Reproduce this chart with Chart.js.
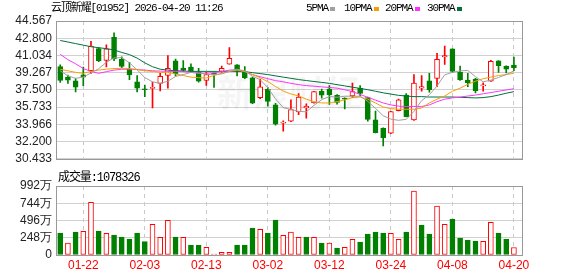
<!DOCTYPE html>
<html>
<head>
<meta charset="utf-8">
<script src="https://cdn.jsdelivr.net/npm/chart.js@4.4.1/dist/chart.umd.min.js"></script>
<style>
  html, body { margin: 0; padding: 0; background: #fff; }
  #wrap { position: relative; width: 578px; height: 276px; overflow: hidden; }
  canvas { position: absolute; left: 0; }
  #kline { top: 0; }
  #vol { top: 170px; }
  .txt {
    position: absolute;
    font: 11px "Liberation Mono", "Noto Sans CJK SC", monospace;
    letter-spacing: -1.1px;
    line-height: 12px;
    color: #000;
    white-space: nowrap;
  }
  .sw { position: absolute; width: 5px; height: 4px; }
</style>
</head>
<body>
<div id="wrap">
  <canvas id="kline" width="578" height="170"></canvas>
  <canvas id="vol" width="578" height="106"></canvas>
  <div class="txt" style="left:51px;top:2px">云顶新耀[01952] 2026-04-20 11:26</div>
  <div class="txt" id="volTitle" style="left:58px;top:171px;font-size:12px;line-height:14px">成交量:1078326</div>
</div>
<script>
const dates = [
  "01-19", "01-20", "01-21", "01-22", "01-23", "01-26", "01-27", "01-28", "01-29", "01-30",
  "02-02", "02-03", "02-04", "02-05", "02-06", "02-09", "02-10", "02-11", "02-12", "02-13",
  "02-16", "02-20", "02-23", "02-24", "02-25", "02-26", "02-27", "03-02", "03-03", "03-04",
  "03-05", "03-06", "03-09", "03-10", "03-11", "03-12", "03-13", "03-16", "03-17", "03-18",
  "03-19", "03-20", "03-23", "03-24", "03-25", "03-26", "03-27", "03-30", "03-31", "04-01",
  "04-02", "04-08", "04-09", "04-10", "04-13", "04-14", "04-15", "04-16", "04-17", "04-20",
];
const tickDates = ["01-22", "02-03", "02-13", "03-02", "03-12", "03-24", "04-08", "04-20"];

const opens = [
  39.88, 38.81, 38.43, 39.04, 39.46, 41.73, 40.53, 42.90, 40.63, 39.62,
  38.33, 37.58, 37.65, 38.17, 38.98, 40.47, 39.75, 39.85, 39.30, 38.46,
  39.15, 39.40, 40.14, 40.08, 39.37, 38.75, 36.71, 37.55, 35.96, 34.08,
  34.28, 35.25, 35.64, 36.16, 37.36, 37.58, 36.94, 36.61, 36.87, 37.65,
  36.71, 34.44, 33.57, 33.05, 35.38, 36.97, 34.41, 37.68, 38.43, 38.69,
  40.89, 41.70, 39.30, 38.52, 38.62, 37.91, 38.39, 40.47, 39.95, 40.05,
];
const highs = [
  40.08, 39.01, 38.65, 39.85, 42.48, 41.83, 42.12, 43.35, 40.89, 40.34,
  38.98, 38.00, 38.30, 39.20, 41.02, 40.66, 40.50, 40.18, 39.72, 39.30,
  39.20, 39.95, 41.83, 40.10, 39.88, 38.82, 38.62, 37.75, 36.13, 34.34,
  36.48, 37.13, 36.06, 37.35, 37.58, 37.94, 37.03, 36.68, 38.20, 37.94,
  36.77, 35.32, 33.60, 35.30, 36.55, 37.13, 39.07, 38.98, 39.20, 41.24,
  41.99, 41.72, 39.95, 39.20, 38.69, 38.23, 40.53, 40.50, 39.97, 40.86,
];
const lows = [
  38.26, 38.17, 37.29, 37.94, 39.20, 40.40, 39.85, 40.50, 39.79, 38.56,
  37.29, 36.81, 35.64, 37.39, 37.68, 38.94, 39.40, 39.30, 38.30, 37.97,
  37.75, 39.30, 40.14, 38.94, 38.65, 36.10, 36.61, 35.83, 33.89, 33.27,
  34.25, 34.96, 34.60, 36.13, 36.64, 36.00, 36.03, 35.54, 36.71, 36.87,
  34.28, 33.10, 31.75, 33.00, 35.35, 34.73, 34.38, 37.36, 37.26, 37.84,
  40.11, 39.30, 38.46, 37.84, 37.19, 37.36, 38.37, 39.30, 39.24, 39.46,
];
const closes = [
  38.46, 38.49, 37.78, 38.81, 41.99, 40.50, 41.70, 40.69, 39.92, 39.04,
  37.68, 37.52, 37.75, 38.88, 39.72, 39.14, 39.50, 39.40, 38.39, 39.07,
  39.10, 39.72, 40.73, 39.46, 38.75, 36.13, 37.81, 36.32, 33.99, 34.21,
  35.48, 36.77, 35.83, 37.32, 36.97, 37.02, 36.22, 36.55, 37.32, 37.13,
  34.47, 33.11, 32.59, 35.28, 36.48, 34.76, 38.20, 37.84, 37.52, 40.63,
  41.02, 39.40, 38.56, 38.23, 37.42, 37.94, 40.43, 39.98, 39.62, 39.79,
];
// 成交量, 单位: 万
const volumes = [
  316, 172, 331, 340, 757, 345, 311, 287, 259, 230,
  316, 192, 441, 254, 498, 259, 254, 144, 144, 110,
  14, 38, 38, 144, 144, 388, 369, 316, 503, 283,
  331, 254, 259, 254, 172, 172, 101, 110, 225, 187,
  302, 331, 316, 311, 225, 331, 920, 431, 302, 704,
  441, 517, 244, 216, 201, 196, 469, 316, 230, 107.8,
];

const ma5 = [
  39.46, 38.94, 38.69, 38.81, 39.24, 39.68, 40.33, 40.78, 40.82, 40.28,
  39.55, 38.76, 38.33, 38.17, 38.39, 38.88, 39.07, 39.30, 39.24, 39.11,
  39.07, 39.14, 39.40, 39.62, 39.45, 38.90, 38.55, 37.72, 36.58, 35.68,
  35.50, 35.30, 35.25, 35.92, 36.50, 36.82, 36.75, 36.85, 36.85, 36.85,
  36.32, 35.60, 34.85, 34.50, 34.38, 34.48, 35.30, 36.40, 37.00, 37.90,
  39.05, 39.30, 39.45, 39.50, 38.85, 38.33, 38.50, 38.78, 39.07, 39.45,
];
const ma10 = [
  39.62, 39.46, 39.30, 39.20, 39.40, 39.53, 39.62, 39.69, 39.72, 39.69,
  39.59, 39.46, 39.40, 39.30, 39.30, 39.14, 38.98, 38.81, 38.75, 38.72,
  38.98, 39.20, 39.40, 39.53, 39.37, 39.07, 38.75, 38.35, 37.85, 37.38,
  37.08, 36.88, 36.55, 36.29, 36.16, 36.16, 36.29, 36.48, 36.71, 36.77,
  36.55, 36.16, 35.74, 35.58, 35.51, 35.51, 35.51, 35.64, 36.16, 36.55,
  36.87, 37.36, 37.68, 38.07, 38.39, 38.65, 38.81, 38.98, 39.07, 39.20,
];
const ma20 = [
  41.15, 40.60, 40.18, 39.69, 39.40, 39.20, 39.37, 39.53, 39.62, 39.62,
  39.59, 39.53, 39.46, 39.43, 39.40, 39.40, 39.37, 39.30, 39.20, 39.20,
  39.27, 39.37, 39.53, 39.56, 39.40, 39.07, 38.85, 38.65, 38.45, 38.33,
  38.17, 38.04, 37.94, 37.88, 37.81, 37.75, 37.68, 37.52, 37.32, 37.03,
  36.74, 36.45, 36.16, 35.96, 35.83, 35.80, 35.80, 35.80, 35.96, 36.29,
  36.55, 36.68, 36.77, 36.87, 36.97, 37.10, 37.23, 37.36, 37.49, 37.62,
];
const ma30 = [
  42.57, 42.41, 42.25, 42.09, 41.93, 41.83, 41.73, 41.60, 41.34, 41.12,
  40.76, 40.27, 39.88, 39.62, 39.53, 39.46, 39.43, 39.40, 39.40, 39.40,
  39.40, 39.40, 39.40, 39.40, 39.37, 39.27, 39.17, 39.07, 38.94, 38.81,
  38.69, 38.56, 38.46, 38.36, 38.27, 38.17, 38.04, 37.91, 37.78, 37.65,
  37.52, 37.36, 37.20, 37.07, 36.94, 36.87, 36.81, 36.81, 36.77, 36.77,
  36.77, 36.77, 36.74, 36.71, 36.68, 36.71, 36.81, 36.97, 37.16, 37.32,
];

const priceTicks = [30.433, 32.2, 33.966, 35.733, 37.5, 39.267, 41.034, 42.8, 44.567];
const volumeTicks = [0, 248, 496, 744, 992];

const RED = "#ff0000";
const GREEN = "#008000";
const maLines = [
  { label: "5PMA", data: ma5, color: "#a0a0a0", left: 306 },
  { label: "10PMA", data: ma10, color: "#f5a000", left: 344 },
  { label: "20PMA", data: ma20, color: "#ff33ff", left: 385 },
  { label: "30PMA", data: ma30, color: "#00703c", left: 427 },
];

const tickIndex = tickDates.map((d) => dates.indexOf(d));
const isUp = closes.map((c, i) => c >= opens[i]);
// volume colour follows the change against the previous close
const volUp = closes.map((c, i) => c >= (i ? closes[i - 1] : opens[i]));
const xMin = -0.55;
const xMax = dates.length + 0.05;

// legend in the header
const wrap = document.getElementById("wrap");
maLines.forEach((m) => {
  const t = document.createElement("div");
  t.className = "txt";
  t.style.left = m.left + "px";
  t.style.top = "2px";
  t.textContent = m.label;
  wrap.appendChild(t);
  const s = document.createElement("div");
  s.className = "sw";
  s.style.left = m.left + m.label.length * 5.5 + 2 + "px";
  s.style.top = "7px";
  s.style.background = m.color;
  wrap.appendChild(s);
});

const framePlugin = {
  id: "frame",
  afterDraw(chart) {
    const { ctx, chartArea: a } = chart;
    ctx.save();
    ctx.strokeStyle = "#999";
    ctx.lineWidth = 1;
    ctx.strokeRect(
      Math.round(a.left) + 0.5,
      Math.round(a.top) + 0.5,
      Math.round(a.right - a.left),
      Math.round(a.bottom - a.top)
    );
    ctx.restore();
  },
};

// faint logo text behind the candles
const watermarkPlugin = {
  id: "watermark",
  beforeDatasetsDraw(chart) {
    const { ctx, chartArea: a } = chart;
    ctx.save();
    ctx.fillStyle = "rgba(0,0,0,0.04)";
    ctx.font = 'bold 36px "Noto Sans CJK SC"';
    ctx.textAlign = "center";
    ctx.textBaseline = "middle";
    ctx.fillText("新浪财经", (a.left + a.right) / 2, 93);
    ctx.restore();
  },
};

const tickFont = { family: '"Liberation Sans", Arial, sans-serif', size: 12 };

function xScale(showLabels) {
  return {
    type: "linear",
    min: xMin,
    max: xMax,
    offset: false,
    afterBuildTicks: (scale) => {
      scale.ticks = tickIndex.map((v) => ({ value: v }));
    },
    afterFit: (scale) => {
      scale.height = showLabels ? 21 : 0;
    },
    ticks: {
      display: showLabels,
      autoSkip: false,
      maxRotation: 0,
      padding: 3,
      color: RED,
      font: tickFont,
      callback: (v) => dates[v],
    },
    grid: { color: "#c8c8c8", drawTicks: false, offset: false },
    border: { display: false, dash: [4, 4] },
  };
}

function yScale(min, max, ticks, format) {
  return {
    min,
    max,
    afterBuildTicks: (scale) => {
      scale.ticks = ticks.map((v) => ({ value: v }));
    },
    afterFit: (scale) => {
      scale.width = 56;
    },
    ticks: { autoSkip: false, padding: 4, color: "#222", font: tickFont, callback: format },
    grid: { color: "#d0d0d0", drawTicks: false },
    border: { display: false },
  };
}

const commonOptions = {
  responsive: false,
  animation: false,
  events: [],
  plugins: { legend: { display: false }, tooltip: { enabled: false } },
};

new Chart(document.getElementById("kline"), {
  type: "bar",
  data: {
    datasets: [
      ...maLines.map((m) => ({
        type: "line",
        data: m.data.map((v, i) => ({ x: i, y: v })),
        borderColor: m.color,
        borderWidth: 1,
        pointRadius: 0,
        tension: 0,
        order: 0,
      })),
      {
        data: dates.map((d, i) => ({ x: i, y: [opens[i], closes[i]] })),
        backgroundColor: isUp.map((u) => (u ? "#fff" : GREEN)),
        borderColor: isUp.map((u) => (u ? RED : GREEN)),
        borderWidth: 1,
        borderSkipped: false,
        barThickness: 5,
        minBarLength: 1,
        grouped: false,
        order: 1,
      },
      {
        data: dates.map((d, i) => ({ x: i, y: [lows[i], highs[i]] })),
        backgroundColor: isUp.map((u) => (u ? RED : GREEN)),
        barThickness: 1,
        grouped: false,
        order: 2,
      },
    ],
  },
  options: {
    ...commonOptions,
    layout: { padding: { top: 21, right: 56, bottom: 4, left: 0 } },
    scales: {
      x: xScale(false),
      y: yScale(priceTicks[0], priceTicks[priceTicks.length - 1], priceTicks, (v) => v.toFixed(3)),
    },
  },
  plugins: [watermarkPlugin, framePlugin],
});

new Chart(document.getElementById("vol"), {
  type: "bar",
  data: {
    datasets: [
      {
        data: volumes.map((v, i) => ({ x: i, y: v })),
        backgroundColor: volUp.map((u) => (u ? "#fff" : GREEN)),
        borderColor: volUp.map((u) => (u ? RED : GREEN)),
        borderWidth: 1,
        borderSkipped: false,
        barThickness: 5,
        grouped: false,
      },
    ],
  },
  options: {
    ...commonOptions,
    layout: { padding: { top: 16, right: 56, bottom: 0, left: 0 } },
    scales: {
      x: xScale(true),
      y: yScale(0, volumeTicks[volumeTicks.length - 1], volumeTicks, (v) => (v === 0 ? "0" : v + "万")),
    },
  },
  plugins: [framePlugin],
});
</script>
</body>
</html>
